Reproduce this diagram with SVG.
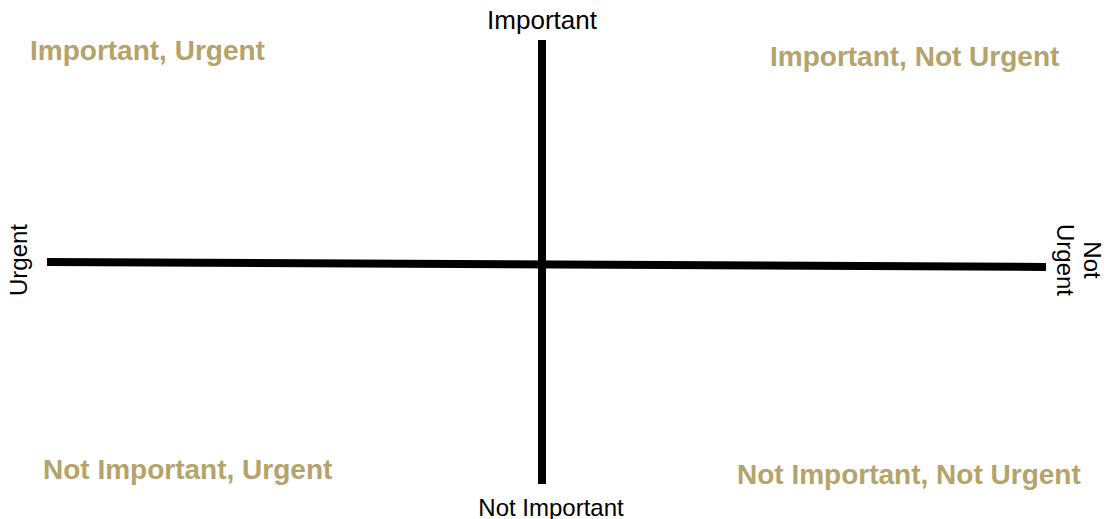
<svg xmlns="http://www.w3.org/2000/svg" width="1106" height="519" viewBox="0 0 1106 519">
  <style>
    .axis { stroke: #000; stroke-width: 8; fill: none; }
    .axis-label { font-family: "Liberation Sans", Arial, sans-serif; font-size: 24px; fill: #000; }
    .quadrant { font-family: "Liberation Sans", Arial, sans-serif; font-size: 28px; font-weight: bold; fill: #B4A36A; }
  </style>
  <rect width="1106" height="519" fill="#fff"/>

  <!-- axes -->
  <g id="connectors">
    <line class="axis" x1="47" y1="262" x2="1046" y2="267"/>
    <line class="axis" x1="542" y1="40" x2="542" y2="484"/>
  </g>

  <!-- axis labels -->
  <g id="label-important">
    <text class="axis-label" x="542" y="29" text-anchor="middle" style="font-size:26px">Important</text>
  </g>
  <g id="label-not-important">
    <text class="axis-label" x="551" y="516" text-anchor="middle">Not Important</text>
  </g>
  <g id="label-urgent">
    <text class="axis-label" transform="translate(27,260) rotate(-90)" text-anchor="middle">Urgent</text>
  </g>
  <g id="label-not-urgent">
    <text class="axis-label" transform="translate(1084,260) rotate(90)" text-anchor="middle">Not</text>
    <text class="axis-label" transform="translate(1057,260) rotate(90)" text-anchor="middle">Urgent</text>
  </g>

  <!-- quadrant titles -->
  <g id="q-important-urgent">
    <text class="quadrant" x="30" y="60">Important, Urgent</text>
  </g>
  <g id="q-important-not-urgent">
    <text class="quadrant" x="770" y="66">Important, Not Urgent</text>
  </g>
  <g id="q-not-important-urgent">
    <text class="quadrant" x="43" y="479">Not Important, Urgent</text>
  </g>
  <g id="q-not-important-not-urgent">
    <text class="quadrant" x="737" y="484">Not Important, Not Urgent</text>
  </g>
</svg>
